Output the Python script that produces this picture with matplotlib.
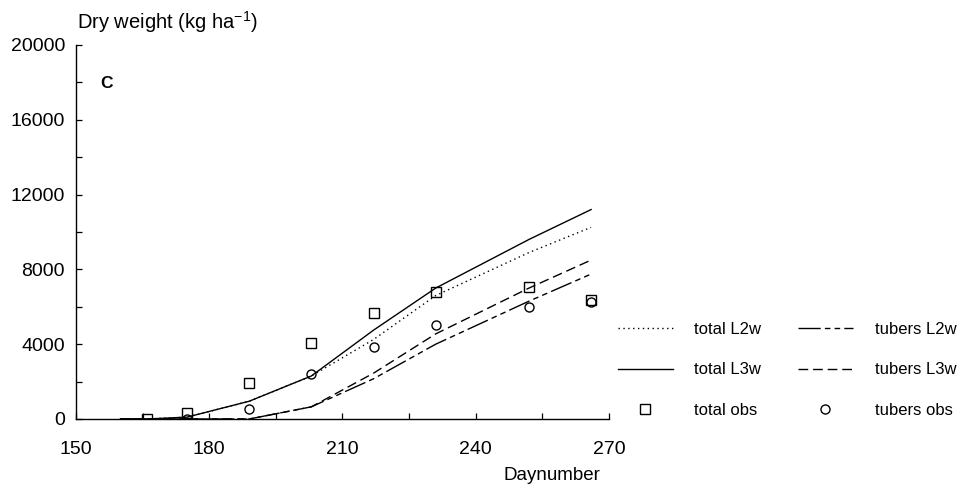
import matplotlib
matplotlib.use('agg')
import matplotlib.pyplot as plt
from matplotlib.lines import Line2D
from matplotlib.ticker import MultipleLocator

plt.rcParams['font.family'] = ['Liberation Sans', 'DejaVu Sans']
plt.rcParams['mathtext.fontset'] = 'custom'
plt.rcParams['mathtext.rm'] = 'Liberation Sans'
plt.rcParams['mathtext.it'] = 'Liberation Sans:italic'

# ---------------------------------------------------------------- #
# simulated dry weight (kg/ha) vs daynumber
sim_days   = [160, 166, 175, 189, 203, 217, 231, 252, 266]
total_L3w  = [0, 0, 100, 950, 2300, 4750, 7000, 9600, 11200]
total_L2w  = [0, 0, 100, 950, 2300, 4250, 6600, 8900, 10250]
tubers_L3w = [0, 0, 0, 0, 650, 2450, 4550, 7000, 8500]
tubers_L2w = [0, 0, 0, 0, 650, 2150, 4000, 6300, 7750]

# observations
obs_days_total = [166, 175, 189, 203, 217, 231, 252, 266]
obs_total      = [0, 300, 1950, 4050, 5650, 6800, 7050, 6350]
obs_days_tub   = [175, 189, 203, 217, 231, 252, 266]
obs_tubers     = [0, 530, 2400, 3870, 5050, 6000, 6250]

xticks = [150, 180, 210, 240, 270]
yticks = [0, 4000, 8000, 12000, 16000, 20000]

# line styles
ls_tL2 = (0, (1, 2.5))
ls_tL3 = '-'
ls_uL2 = (0, (16, 3, 4, 3, 4, 3))
ls_uL3 = (0, (7, 3.5))

fig = plt.figure(figsize=(9.68, 4.88), dpi=100)
ax = fig.add_axes([0.0785, 0.1414, 0.5505, 0.7664])

ax.plot(sim_days, total_L2w, color='black', lw=1.0, ls=ls_tL2)
ax.plot(sim_days, total_L3w, color='black', lw=1.0, ls=ls_tL3)
ax.plot(sim_days, tubers_L2w, color='black', lw=1.0, ls=ls_uL2)
ax.plot(sim_days, tubers_L3w, color='black', lw=1.0, ls=ls_uL3)
ax.plot(obs_days_total, obs_total, ls='none', marker='s', ms=7, mfc='none', mec='black', mew=1.0)
ax.plot(obs_days_tub, obs_tubers, ls='none', marker='o', ms=6.5, mfc='none', mec='black', mew=1.0)

ax.set_xlim(150, 270)
ax.set_ylim(0, 20000)
ax.set_xticks(xticks)
ax.set_yticks(yticks)
ax.xaxis.set_minor_locator(MultipleLocator(15))
ax.yaxis.set_minor_locator(MultipleLocator(2000))
ax.tick_params(which='both', direction='in', length=4, width=0.9, labelsize=14)
ax.tick_params(axis='x', pad=16)
ax.tick_params(axis='y', pad=8)
for s in ['top', 'right']:
  ax.spines[s].set_visible(False)
for s in ['left', 'bottom']:
  ax.spines[s].set_linewidth(1.0)

ax.text(0.045, 0.898, 'C', transform=ax.transAxes, fontsize=12.5, fontweight='bold', va='center')

fig.text(77/968, 1-22/488, r'Dry weight (kg ha$^{-1}$)', fontsize=14.5, va='center', ha='left')
fig.text(600/968, 1-475/488, 'Daynumber', fontsize=13.5, va='center', ha='right')

# legend, two columns outside the axes
handles = [
  Line2D([], [], color='black', lw=1.0, ls=ls_tL2),
  Line2D([], [], color='black', lw=1.0, ls=ls_tL3),
  Line2D([], [], ls='none', marker='s', ms=7, mfc='none', mec='black', mew=1.0),
  Line2D([], [], color='black', lw=1.0, ls=ls_uL2),
  Line2D([], [], color='black', lw=1.0, ls=ls_uL3),
  Line2D([], [], ls='none', marker='o', ms=6.5, mfc='none', mec='black', mew=1.0),
]
labels = ['total L2w', 'total L3w', 'total obs', 'tubers L2w', 'tubers L3w', 'tubers obs']
fig.legend(handles, labels, ncol=2, loc='upper left', bbox_to_anchor=(0.638, 0.341),
           frameon=False, fontsize=12, handlelength=3.3, handletextpad=1.3,
           columnspacing=2.2, labelspacing=1.55, borderpad=0, borderaxespad=0)

plt.savefig('out.png', dpi=100)
plt.close()
